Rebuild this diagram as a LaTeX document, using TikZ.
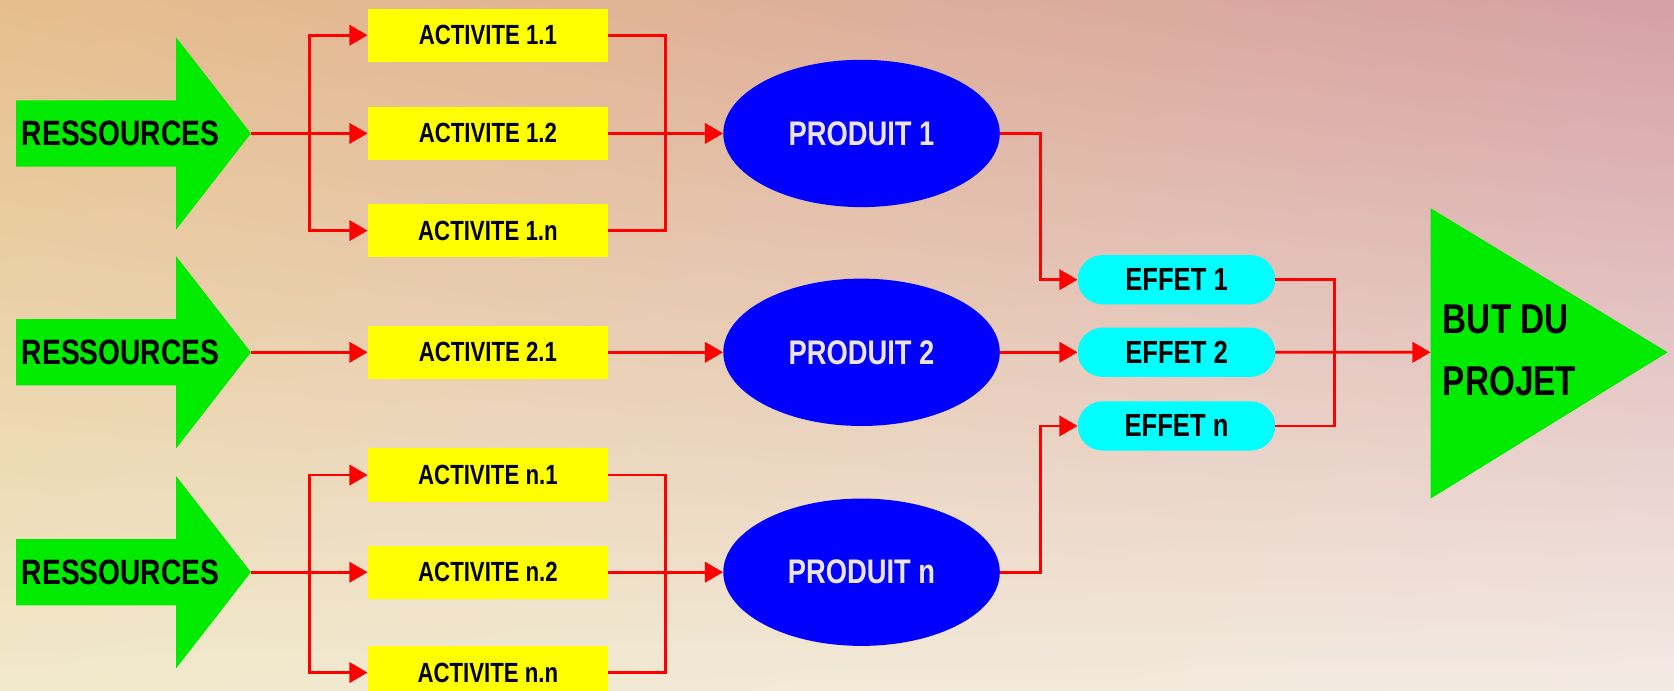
\documentclass[tikz,border=0pt]{standalone}
\usepackage{fontspec}
\newfontfamily\labelfont{Liberation Sans}[FakeStretch=0.8]
\usetikzlibrary{arrows.meta, shapes.geometric, shapes.misc, shadings}
\definecolor{vert}{RGB}{0,235,0}
\definecolor{jaune}{RGB}{255,255,0}
\definecolor{bleu}{RGB}{0,0,255}
\definecolor{cyan2}{RGB}{0,255,255}
\definecolor{rouge}{RGB}{255,0,0}
\definecolor{gris}{RGB}{236,228,228}
\definecolor{bgul}{RGB}{230,190,140}
\definecolor{bgur}{RGB}{214,160,166}
\definecolor{bgll}{RGB}{241,233,202}
\definecolor{bglr}{RGB}{243,234,228}
\tikzset{>={Triangle[length=17pt,width=19pt]}}
\tikzset{
  flow/.style={draw=rouge, line width=2.6pt},
  activite/.style={fill=jaune, minimum width=225pt, minimum height=50pt, inner sep=0pt,
    font=\labelfont\bfseries\fontsize{26}{28}\selectfont},
  produit/.style={ellipse, fill=bleu, text=gris, minimum width=259pt, minimum height=138pt, inner sep=0pt,
    font=\labelfont\bfseries\fontsize{32}{34}\selectfont},
  effet/.style={rounded rectangle, fill=cyan2, minimum width=185pt, minimum height=46pt, inner sep=0pt,
    font=\labelfont\bfseries\fontsize{30}{32}\selectfont},
  ressource/.style={font=\labelfont\bfseries\fontsize{33}{35}\selectfont}
}

\begin{document}
\begin{tikzpicture}[x=1pt, y=1pt]
\useasboundingbox (0,0) rectangle (1568,647);
\clip (0,0) rectangle (1568,647);
\shade[upper left=bgul, upper right=bgur, lower left=bgll, lower right=bglr] (0,0) rectangle (1568,647);

% ressources
\fill[vert] (15,553)--(165,553)--(165,612)--(235,522)--(165,432)--(165,491)--(15,491)--cycle;
\fill[vert] (15,348)--(165,348)--(165,407)--(235,317)--(165,227)--(165,286)--(15,286)--cycle;
\fill[vert] (15,142)--(165,142)--(165,201)--(235,111)--(165,21)--(165,80)--(15,80)--cycle;
\node[ressource] (r1) at (113,522) {RESSOURCES};
\node[ressource] (r2) at (113,317) {RESSOURCES};
\node[ressource] (r3) at (113,111) {RESSOURCES};
\coordinate (r1tip) at (235,522);
\coordinate (r2tip) at (235,317);
\coordinate (r3tip) at (235,111);

% activites
\node[activite] (a11) at (457,614) {ACTIVITE 1.1};
\node[activite] (a12) at (457,522) {ACTIVITE 1.2};
\node[activite] (a1n) at (457,431) {ACTIVITE 1.n};
\node[activite] (a21) at (457,317) {ACTIVITE 2.1};
\node[activite] (an1) at (457,202) {ACTIVITE n.1};
\node[activite] (an2) at (457,111) {ACTIVITE n.2};
\node[activite] (ann) at (457,17) {ACTIVITE n.n};

% produits
\node[produit] (p1) at (807,522) {PRODUIT 1};
\node[produit] (p2) at (807,317) {PRODUIT 2};
\node[produit] (pn) at (807,111) {PRODUIT n};

% effets
\node[effet] (e1) at (1102,385) {EFFET 1};
\node[effet] (e2) at (1102,317) {EFFET 2};
\node[effet] (en) at (1102,248) {EFFET n};

% but du projet
\fill[vert] (1340,452)--(1562,317)--(1340,180)--cycle;
\node[ressource, anchor=west, align=left, font=\labelfont\bfseries\fontsize{39}{58}\selectfont] (but) at (1348,319) {BUT DU\\PROJET};
\coordinate (butin) at (1340,317);

% connexions
\coordinate (s1) at (290,522);
\coordinate (s3) at (290,111);
\coordinate (m1) at (623,522);
\coordinate (m3) at (623,111);
\coordinate (m4) at (1250,317);
\draw[flow,->] (r1tip) -- (a12);
\draw[flow,->] (s1) |- (a11);
\draw[flow,->] (s1) |- (a1n);
\draw[flow] (a11) -| (m1);
\draw[flow] (a1n) -| (m1);
\draw[flow,->] (a12) -- (p1);
\draw[flow,->] (r2tip) -- (a21);
\draw[flow,->] (a21) -- (p2);
\draw[flow,->] (r3tip) -- (an2);
\draw[flow,->] (s3) |- (an1);
\draw[flow,->] (s3) |- (ann);
\draw[flow] (an1) -| (m3);
\draw[flow] (ann) -| (m3);
\draw[flow,->] (an2) -- (pn);
\draw[flow,->] (p1.east) -- ++(38,0) |- (e1);
\draw[flow,->] (p2) -- (e2);
\draw[flow,->] (pn.east) -- ++(38,0) |- (en);
\draw[flow] (e1) -| (m4);
\draw[flow] (en) -| (m4);
\draw[flow,->] (e2) -- (butin);
\end{tikzpicture}
\end{document}
